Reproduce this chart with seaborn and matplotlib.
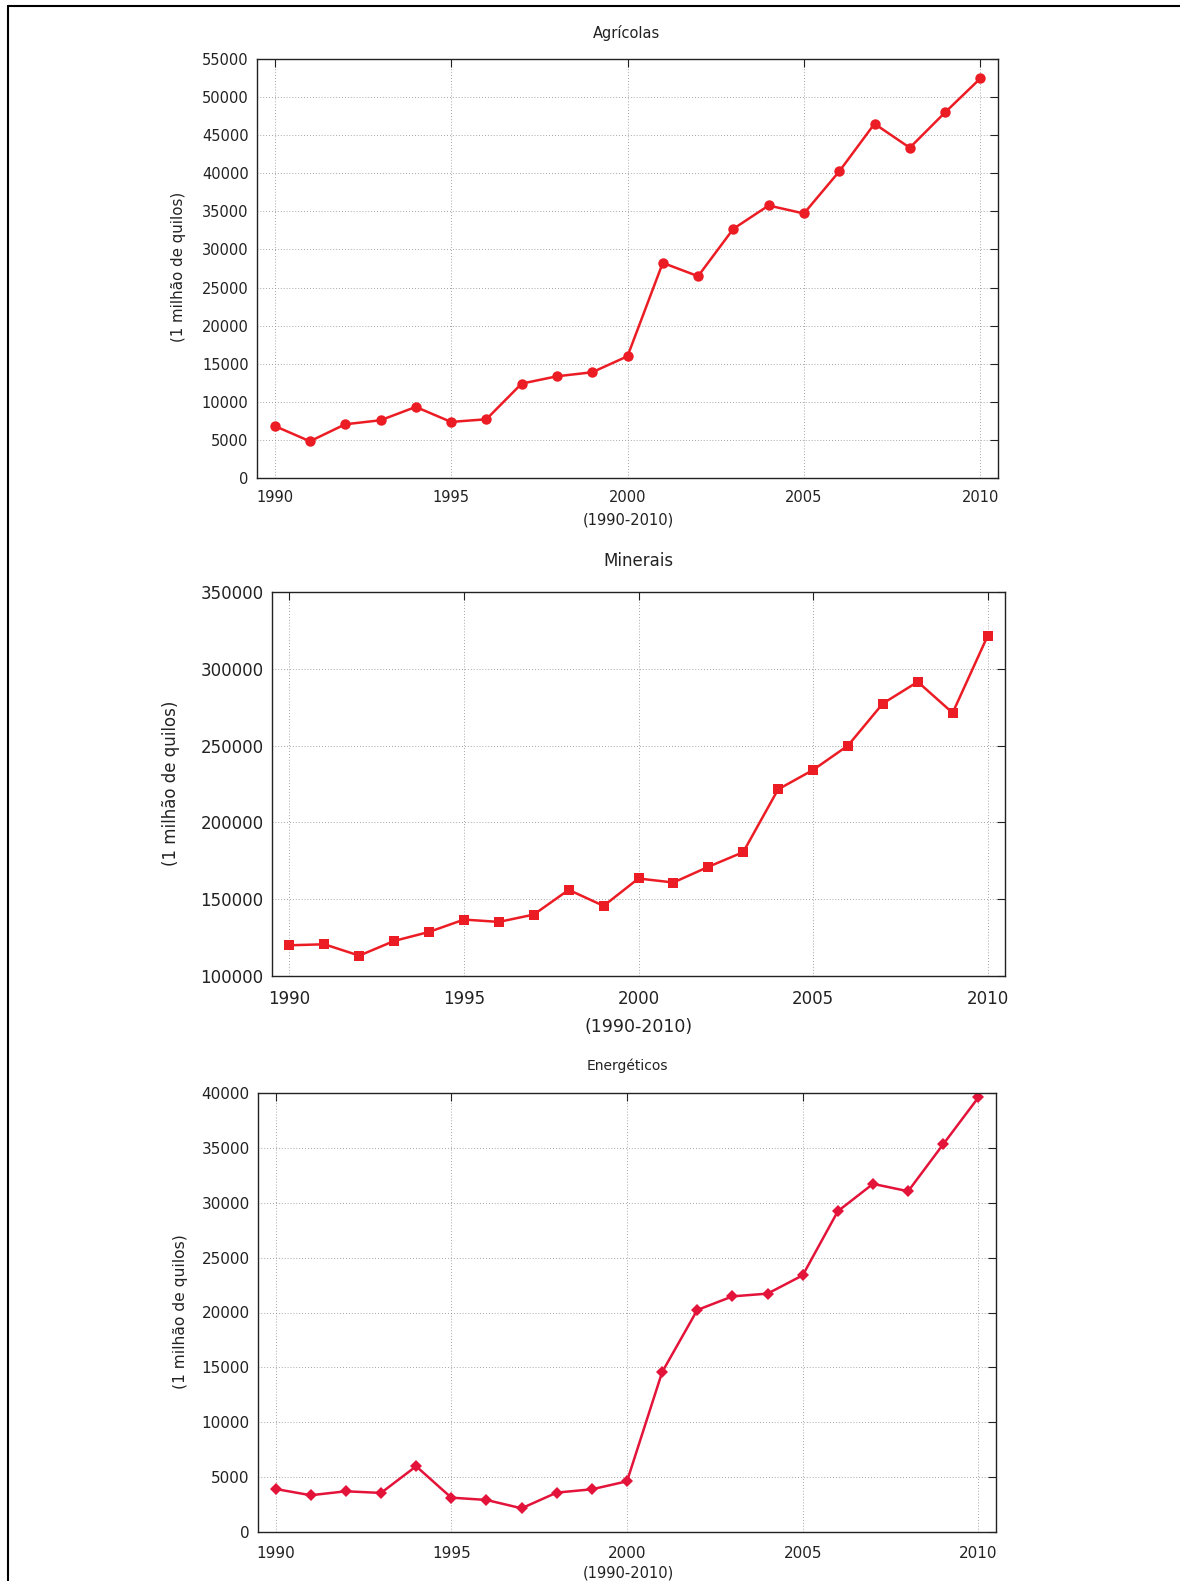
import numpy as np
import pandas as pd
import matplotlib
matplotlib.use('Agg')
import matplotlib.pyplot as plt
import seaborn as sns
from matplotlib.lines import Line2D

sns.set_style('white')
plt.rcParams['font.family'] = ['DejaVu Sans']

years = list(range(1990, 2011))
agricolas = [6830, 4820, 7050, 7580, 9330, 7360, 7710, 12390, 13350, 13880, 15980,
             28240, 26490, 32710, 35770, 34720, 40240, 46500, 43350, 47990, 52450]
minerais = [120000, 120650, 113260, 122830, 128700, 136740, 135220, 140000, 156090, 145650, 163480,
            160870, 171090, 180650, 221520, 234130, 250000, 277390, 291520, 271300, 321300]
energeticos = [3920, 3350, 3710, 3560, 5990, 3130, 2920, 2160, 3590, 3890, 4620,
               14570, 20230, 21470, 21720, 23390, 29230, 31720, 31050, 35340, 39600]

titles = ['Agrícolas', 'Minerais', 'Energéticos']
ylabel = '(1 milhão de quilos)'
xlabel = '(1990-2010)'

W, H = 1180, 1581
fig = plt.figure(figsize=(W / 100, H / 100), dpi=100)

def px_axes(l, r, t, b):
    return fig.add_axes([l / W, 1 - b / H, (r - l) / W, (b - t) / H])

panels = [
    dict(vals=agricolas, box=(257, 998, 59, 478), ylim=(0, 55000), step=5000, marker='o', ms=7.5,
         color='#ec1c24', tfs=10.5, tl=10.5, xl=10.5, yl=10.8, xpad=9,
         title_xy=(627, 33), xl_xy=(628, 520), yl_xy=(178, 267)),
    dict(vals=minerais, box=(272, 1005, 592, 976), ylim=(100000, 350000), step=50000, marker='s', ms=7.5,
         color='#ec1c24', tfs=12, tl=12, xl=12.5, yl=12, xpad=10,
         title_xy=(638, 561), xl_xy=(639, 1027), yl_xy=(171, 783)),
    dict(vals=energeticos, box=(258, 996, 1093, 1532), ylim=(0, 40000), step=5000, marker='D', ms=6.5,
         color='#e3133a', tfs=11, tl=10, xl=10.5, yl=11.2, xpad=10,
         title_xy=(627, 1066), xl_xy=(628, 1573), yl_xy=(181, 1312)),
]

for name, p in zip(titles, panels):
    ax = px_axes(*p['box'])
    df = pd.DataFrame({'ano': years, 'valor': p['vals']})
    sns.lineplot(data=df, x='ano', y='valor', ax=ax, color=p['color'], linewidth=1.8,
                 marker=p['marker'], markersize=p['ms'], markeredgewidth=0,
                 markerfacecolor=p['color'])
    ax.set_xlim(1989.5, 2010.5)
    ax.set_ylim(*p['ylim'])
    ax.set_xticks(range(1990, 2011, 5))
    ax.set_yticks(np.arange(p['ylim'][0], p['ylim'][1] + 1, p['step']))
    ax.tick_params(direction='in', length=6, width=0.8, top=True, right=True,
                   labelsize=p['tfs'], colors='#222222', pad=6)
    ax.tick_params(axis='x', pad=p['xpad'])
    ax.grid(True, linestyle=(0, (1, 2.5)), color='#888888', linewidth=0.6)
    for s in ax.spines.values():
        s.set_color('#222222')
        s.set_linewidth(1.0)
    ax.set_xlabel('')
    ax.set_ylabel('')
    fig.text(p['title_xy'][0] / W, 1 - p['title_xy'][1] / H, name, ha='center', va='center',
             fontsize=p['tl'], color='#222222')
    fig.text(p['xl_xy'][0] / W, 1 - p['xl_xy'][1] / H, xlabel, ha='center', va='center',
             fontsize=p['xl'], color='#222222')
    fig.text(p['yl_xy'][0] / W, 1 - p['yl_xy'][1] / H, ylabel, ha='center', va='center',
             rotation=90, fontsize=p['yl'], color='#222222')

# moldura da figura
fig.add_artist(Line2D([8 / W, 8 / W], [0, 1 - 6 / H], color='black', linewidth=1.5))
fig.add_artist(Line2D([8 / W, 1], [1 - 6 / H, 1 - 6 / H], color='black', linewidth=1.5))

fig.savefig('out.png', dpi=100)
